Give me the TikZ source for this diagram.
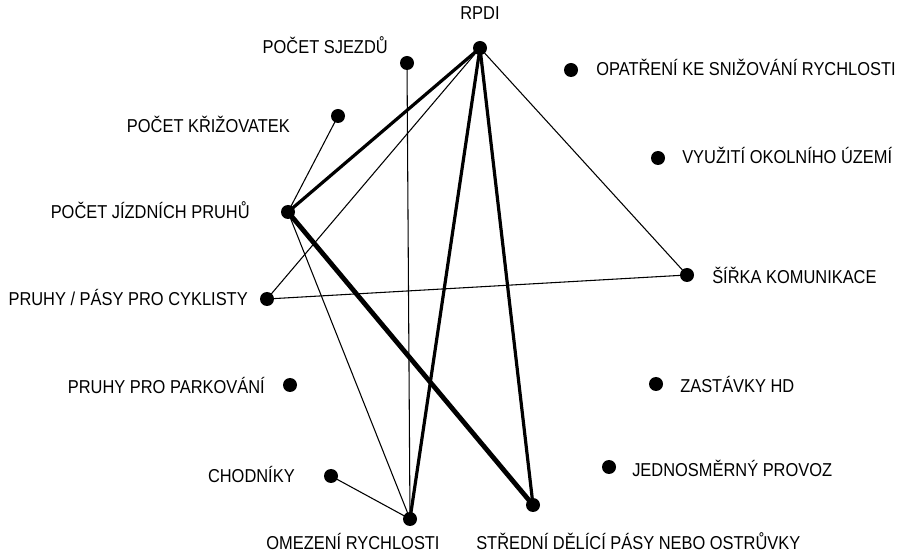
\documentclass[tikz,border=0pt]{standalone}
\usepackage{fontspec}
\setmainfont{Liberation Sans}[FakeStretch=0.88]
\begin{document}
\begin{tikzpicture}[x=0.75pt,y=-0.75pt,
  dot/.style={circle,fill=black,inner sep=0pt,minimum size=10.5pt},
  lab/.style={font=\fontsize{14pt}{16pt}\selectfont,inner sep=0pt},
  thin edge/.style={line width=0.8pt},
  mid edge/.style={line width=2.4pt},
  thick edge/.style={line width=3.6pt}]
\useasboundingbox (0,0) rectangle (897,552);
\node[dot] (rpdi) at (480,48) {};
\node[dot] (sjezdu) at (407,63) {};
\node[dot] (opatr) at (571,70) {};
\node[dot] (kriz) at (338,116) {};
\node[dot] (vyuz) at (658,158) {};
\node[dot] (jizd) at (288,212) {};
\node[dot] (sirka) at (687,275) {};
\node[dot] (cykl) at (267,299) {};
\node[dot] (park) at (290,385) {};
\node[dot] (zast) at (656,384) {};
\node[dot] (jedn) at (609,467) {};
\node[dot] (chod) at (331,476) {};
\node[dot] (omez) at (410,519) {};
\node[dot] (stred) at (533,505) {};

\node[lab] (lrpdi) at (480,13) {RPDI};
\node[lab,anchor=east] (lsjezdu) at (388,45) {POČET SJEZDŮ};
\node[lab,anchor=west] (lopatr) at (596,67) {OPATŘENÍ KE SNIŽOVÁNÍ RYCHLOSTI};
\node[lab,anchor=east] (lkriz) at (290,124) {POČET KŘIŽOVATEK};
\node[lab,anchor=west] (lvyuz) at (682,155) {VYUŽITÍ OKOLNÍHO ÚZEMÍ};
\node[lab,anchor=east] (ljizd) at (250,210) {POČET JÍZDNÍCH PRUHŮ};
\node[lab,anchor=west] (lsirka) at (712,275) {ŠÍŘKA KOMUNIKACE};
\node[lab,anchor=east] (lcykl) at (248,297) {PRUHY / PÁSY PRO CYKLISTY};
\node[lab,anchor=east] (lpark) at (265,385) {PRUHY PRO PARKOVÁNÍ};
\node[lab,anchor=west] (lzast) at (680,384) {ZASTÁVKY HD};
\node[lab,anchor=west] (ljedn) at (632,468) {JEDNOSMĚRNÝ PROVOZ};
\node[lab,anchor=east] (lchod) at (295,474) {CHODNÍKY};
\node[lab,anchor=base] (lomez) at (353,549) {OMEZENÍ RYCHLOSTI};
\node[lab,anchor=base west] (lstred) at (476,549) {STŘEDNÍ DĚLÍCÍ PÁSY NEBO OSTRŮVKY};

\draw[thin edge] (sjezdu.center) -- (omez.center);
\draw[thin edge] (kriz.center) -- (jizd.center);
\draw[thin edge] (rpdi.center) -- (cykl.center);
\draw[thin edge] (rpdi.center) -- (sirka.center);
\draw[thin edge] (cykl.center) -- (sirka.center);
\draw[thin edge] (jizd.center) -- (omez.center);
\draw[thin edge] (chod.center) -- (omez.center);
\draw[mid edge] (rpdi.center) -- (jizd.center);
\draw[mid edge] (rpdi.center) -- (omez.center);
\draw[mid edge] (rpdi.center) -- (stred.center);
\draw[thick edge] (jizd.center) -- (stred.center);
\end{tikzpicture}
\end{document}
